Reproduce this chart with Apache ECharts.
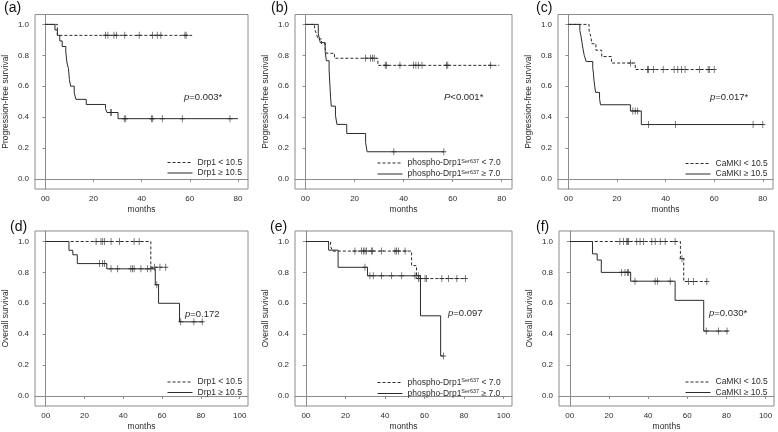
<!DOCTYPE html>
<html><head><meta charset="utf-8">
<script src="https://cdn.jsdelivr.net/npm/echarts@6/dist/echarts.min.js"></script>
<style>html,body{margin:0;padding:0;background:#fff}#c{width:778px;height:432px}</style>
</head><body><div id="c"></div>
<script>
// ---- tick labels ----
const yTickValues = [0, 0.2, 0.4, 0.6, 0.8, 1.0];
const yTickLabels = ['0.0', '0.2', '0.4', '0.6', '0.8', '1.0'];
const xTickValuesPFS = [0, 20, 40, 60, 80];
const xTickLabelsPFS = ['00', '20', '40', '60', '80'];
const xTickValuesOS = [0, 20, 40, 60, 80, 100];
const xTickLabelsOS = ['00', '20', '40', '60', '80', '100'];

// ---- panel texts ----
const panelLetters = ['(a)', '(b)', '(c)', '(d)', '(e)', '(f)'];
const yTitles = ['Progression-free survival', 'Progression-free survival', 'Progression-free survival',
                 'Overall survival', 'Overall survival', 'Overall survival'];
const xTitle = 'months';
const pSymbols = ['p', 'P', 'p', 'p', 'p', 'p'];
const pRest = ['=0.003*', '<0.001*', '=0.017*', '=0.172', '=0.097', '=0.030*'];
const lowLabels = ['Drp1 < 10.5', 'phospho-Drp1Ser637 < 7.0', 'CaMKI < 10.5',
                   'Drp1 < 10.5', 'phospho-Drp1Ser637 < 7.0', 'CaMKI < 10.5'];
const highLabels = ['Drp1 \u2265 10.5', 'phospho-Drp1Ser637 \u2265 7.0', 'CaMKI \u2265 10.5',
                    'Drp1 \u2265 10.5', 'phospho-Drp1Ser637 \u2265 7.0', 'CaMKI \u2265 10.5'];

// ---- Kaplan-Meier curves (times where survival changes, survival after change) ----
// (a) PFS Drp1
const a_lowTimes = [0, 5, 61];
const a_lowSurv = [1, 0.929, 0.929];
const a_lowCensor = [25, 26, 28.5, 29.5, 33, 39, 44.5, 46.5, 48, 58, 58.5];
const a_highTimes = [0, 4, 5, 6, 7, 8.5, 9, 9.6, 10, 10.5, 12, 12.7, 17, 25, 25.6, 30.2, 80];
const a_highSurv = [1, 0.964, 0.929, 0.893, 0.857, 0.821, 0.75, 0.714, 0.643, 0.6, 0.557, 0.515, 0.482, 0.455, 0.43, 0.39, 0.39];
const a_highCensor = [27, 27.5, 32.8, 33.4, 44.1, 44.6, 48.6, 56.9, 76.7];
// (b) PFS phospho-Drp1
const b_lowTimes = [0, 3.7, 4.5, 5, 6.5, 8, 8.5, 11.8, 29.5, 79];
const b_lowSurv = [1, 0.969, 0.938, 0.906, 0.875, 0.844, 0.813, 0.781, 0.735, 0.735];
const b_lowCensor = [24.5, 26.5, 27.3, 28, 32.5, 33, 38.5, 44, 45, 46, 47.5, 57.5, 58, 75.5];
const b_highTimes = [0, 5.2, 6, 8, 8.5, 9.6, 9.8, 10, 10.2, 10.5, 12.2, 12.8, 16.8, 24.5, 25.1, 56.4];
const b_highSurv = [1, 0.941, 0.882, 0.824, 0.765, 0.706, 0.647, 0.588, 0.529, 0.471, 0.412, 0.353, 0.294, 0.235, 0.176, 0.176];
const b_highCensor = [36, 56.4];
// (c) PFS CaMKI
const c_lowTimes = [0, 8.5, 9.3, 9.6, 11.3, 13.7, 17.7, 27.5, 60];
const c_lowSurv = [1, 0.958, 0.917, 0.875, 0.833, 0.792, 0.75, 0.708, 0.708];
const c_lowCensor = [25.5, 32.5, 33, 35, 39, 43.5, 45, 46.5, 48, 54, 57.5, 58, 60];
const c_highTimes = [0, 4.7, 5.2, 5.6, 6, 6.5, 7.3, 10, 10.3, 10.5, 10.8, 11.2, 12.8, 13.2, 25.5, 30, 80];
const c_highSurv = [1, 0.96, 0.92, 0.88, 0.84, 0.80, 0.76, 0.72, 0.68, 0.64, 0.60, 0.56, 0.52, 0.48, 0.44, 0.352, 0.352];
const c_highCensor = [26.5, 27.5, 28.5, 33, 44, 76, 80];
// (d) OS Drp1
const d_lowTimes = [0, 54.2, 62];
const d_lowSurv = [1, 0.833, 0.833];
const d_lowCensor = [26, 28.5, 29.4, 30.3, 33.7, 38, 45.6, 48.2, 56.2, 58.9, 61.9];
const d_highTimes = [0, 12, 14, 16.3, 31.5, 56.5, 58.2, 69, 81];
const d_highSurv = [1, 0.943, 0.914, 0.857, 0.823, 0.72, 0.60, 0.48, 0.48];
const d_highCensor = [27.7, 29.4, 30.3, 33.7, 37.1, 43.9, 44.8, 45.6, 49.1, 52.5, 54.2, 57.3, 69.6, 76.4, 80.7];
// (e) OS phospho-Drp1
const e_lowTimes = [0, 12.5, 13.5, 53.5, 56, 81];
const e_lowSurv = [1, 0.969, 0.938, 0.844, 0.76, 0.76];
const e_lowCensor = [24.8, 28.2, 29.1, 29.9, 30.7, 33.3, 33.6, 38.3, 45.1, 45.9, 46.8, 50.2, 56.9, 57.8, 60.3, 61.1, 68.8, 72.1, 76.4, 80.7];
const e_highTimes = [0, 11.5, 16.3, 31.2, 58, 68.2, 69.6];
const e_highSurv = [1, 0.944, 0.833, 0.778, 0.519, 0.259, 0.259];
const e_highCensor = [29.9, 32.4, 34.1, 38.3, 43.4, 48.5, 55.2, 56.9, 69.6];
// (f) OS CaMKI
const f_lowTimes = [0, 56.5, 58.2, 70];
const f_lowSurv = [1, 0.889, 0.741, 0.741];
const f_lowCensor = [25.6, 27.4, 29.1, 29.6, 29.9, 34.2, 35.9, 37.6, 41.9, 43.6, 46.2, 48.7, 53.8, 57.3, 60.7, 63.2, 70];
const f_highTimes = [0, 11.6, 14, 16.1, 31.1, 53.8, 68.4, 81];
const f_highSurv = [1, 0.92, 0.88, 0.80, 0.743, 0.619, 0.42, 0.42];
const f_highCensor = [26.5, 28.2, 29.4, 29.9, 33.3, 43.6, 44.8, 51.3, 69.7, 76, 80.3];

// ---- assemble ----
const curves = [
  [a_lowTimes, a_lowSurv, a_lowCensor, a_highTimes, a_highSurv, a_highCensor],
  [b_lowTimes, b_lowSurv, b_lowCensor, b_highTimes, b_highSurv, b_highCensor],
  [c_lowTimes, c_lowSurv, c_lowCensor, c_highTimes, c_highSurv, c_highCensor],
  [d_lowTimes, d_lowSurv, d_lowCensor, d_highTimes, d_highSurv, d_highCensor],
  [e_lowTimes, e_lowSurv, e_lowCensor, e_highTimes, e_highSurv, e_highCensor],
  [f_lowTimes, f_lowSurv, f_lowCensor, f_highTimes, f_highSurv, f_highCensor]
];

const FONT = '"Liberation Sans", Arial, sans-serif';
const INK = '#2b2b2b';
const BOX = '#8c8c8c';
const CROSS = 'path://M5,0L5,10M0,5L10,5';

const gridRects = [
  {left: 33, top: 14.5, width: 215, height: 174.5},
  {left: 295, top: 14.5, width: 217, height: 174.5},
  {left: 558, top: 14.5, width: 215, height: 174.5},
  {left: 33, top: 231, width: 215, height: 177},
  {left: 295, top: 231, width: 217, height: 177},
  {left: 559, top: 231, width: 215, height: 177}
];
const legendPos = [[167, 158], [377, 158], [685, 159], [167, 377.5], [377, 377.5], [685, 377.5]];
const letterPos = [[4, 1], [271, 1], [536, 1], [10, 220], [270, 220], [536, 220]];
const pPos = [[184, 97], [444, 97], [710, 97], [185, 314], [448, 313.5], [709, 313.5]];

function zip(t, s) { return t.map((v, i) => [v, s[i]]); }
function survAt(t, s, x) { let k = 0; for (let i = 0; i < t.length; i++) if (t[i] <= x) k = i; return s[k]; }
function legendFmt(name) {
  const i = name.indexOf('Ser637');
  if (i < 0) return '{n|' + name + '}';
  return '{n|' + name.slice(0, i) + '}{s|Ser637}{n|' + name.slice(i + 6) + '}';
}

const grid = [], xAxis = [], yAxis = [], series = [], legend = [], graphic = [];
for (let i = 0; i < 6; i++) {
  const os = i >= 3;
  const xt = os ? xTickValuesOS : xTickValuesPFS;
  const xl = os ? xTickLabelsOS : xTickLabelsPFS;
  grid.push(Object.assign({show: true, borderColor: BOX, borderWidth: 1, backgroundColor: 'transparent'}, gridRects[i]));
  xAxis.push({
    gridIndex: i, type: 'value', min: os ? -5.5 : -4.3, max: os ? 104.3 : 84.2,
    axisLine: {show: true, lineStyle: {color: BOX, width: 1}},
    splitLine: {show: false},
    axisTick: {show: true, inside: false, length: 3, lineStyle: {color: BOX}, customValues: xt},
    axisLabel: {customValues: xt, formatter: v => xl[xt.indexOf(v)] ?? '', fontSize: 8, color: INK, margin: 6, fontFamily: FONT},
    name: xTitle, nameLocation: 'middle', nameGap: 16,
    nameTextStyle: {fontSize: 8.5, color: INK, fontFamily: FONT}
  });
  yAxis.push({
    gridIndex: i, type: 'value', min: -0.065, max: os ? 1.068 : 1.064,
    axisLine: {show: true, lineStyle: {color: BOX, width: 1}},
    splitLine: {show: false},
    axisTick: {show: true, inside: false, length: 3, lineStyle: {color: BOX}, customValues: yTickValues},
    axisLabel: {customValues: yTickValues, formatter: v => yTickLabels[yTickValues.indexOf(v)] ?? '', fontSize: 8, color: INK, margin: 6, fontFamily: FONT},
    name: yTitles[i], nameLocation: 'middle', nameGap: 25,
    nameTextStyle: {fontSize: 8.5, color: INK, fontFamily: FONT}
  });
  const [lt, ls, lc, ht, hs, hc] = curves[i];
  series.push({
    type: 'line', name: lowLabels[i], xAxisIndex: i, yAxisIndex: i, step: 'end', symbol: 'none',
    data: zip(lt, ls), lineStyle: {color: INK, width: 1, type: [3, 2]}, itemStyle: {color: INK}, silent: true, z: 3
  });
  series.push({
    type: 'line', name: highLabels[i], xAxisIndex: i, yAxisIndex: i, step: 'end', symbol: 'none',
    data: zip(ht, hs), lineStyle: {color: INK, width: 1, type: 'solid'}, itemStyle: {color: INK}, silent: true, z: 3
  });
  series.push({
    type: 'scatter', xAxisIndex: i, yAxisIndex: i, symbol: CROSS, symbolSize: [5, 7],
    data: lc.map(t => [t, survAt(lt, ls, t)]),
    itemStyle: {color: 'rgba(0,0,0,0)', borderColor: INK, borderWidth: 0.9}, silent: true, z: 4
  });
  series.push({
    type: 'scatter', xAxisIndex: i, yAxisIndex: i, symbol: CROSS, symbolSize: [5, 7],
    data: hc.map(t => [t, survAt(ht, hs, t)]),
    itemStyle: {color: 'rgba(0,0,0,0)', borderColor: INK, borderWidth: 0.9}, silent: true, z: 4
  });
  legend.push({
    data: [lowLabels[i], highLabels[i]], orient: 'vertical', left: legendPos[i][0], top: legendPos[i][1],
    itemWidth: 25, itemHeight: 10, itemGap: 1.5, padding: 0, selectedMode: false, align: 'left',
    formatter: legendFmt,
    itemStyle: {opacity: 0, borderWidth: 0},
    lineStyle: {width: 1, color: INK},
    textStyle: {fontSize: 8.5, color: INK, fontFamily: FONT,
      rich: {n: {fontSize: 8.5, color: INK, fontFamily: FONT, lineHeight: 10},
             s: {fontSize: 5.5, color: INK, fontFamily: FONT, verticalAlign: 'top', lineHeight: 10}}}
  });
  graphic.push({type: 'text', x: letterPos[i][0], y: letterPos[i][1], silent: true,
    style: {text: panelLetters[i], fontSize: 14, fontFamily: FONT, fill: '#111'}});
  graphic.push({type: 'text', x: pPos[i][0], y: pPos[i][1], silent: true,
    style: {text: '{i|' + pSymbols[i] + '}{n|' + pRest[i] + '}', verticalAlign: 'middle',
      fontSize: 9.5, fontFamily: FONT, fill: INK,
      rich: {i: {fontStyle: 'italic', fontSize: 9.5, fontFamily: FONT, fill: INK, color: INK},
             n: {fontSize: 9.5, fontFamily: FONT, fill: INK, color: INK}}}});
}

const chart = echarts.init(document.getElementById('c'), null, {renderer: 'canvas'});
chart.setOption({
  animation: false,
  backgroundColor: '#fff',
  textStyle: {fontFamily: FONT},
  grid, xAxis, yAxis, series, legend, graphic
});
</script>
</body></html>
